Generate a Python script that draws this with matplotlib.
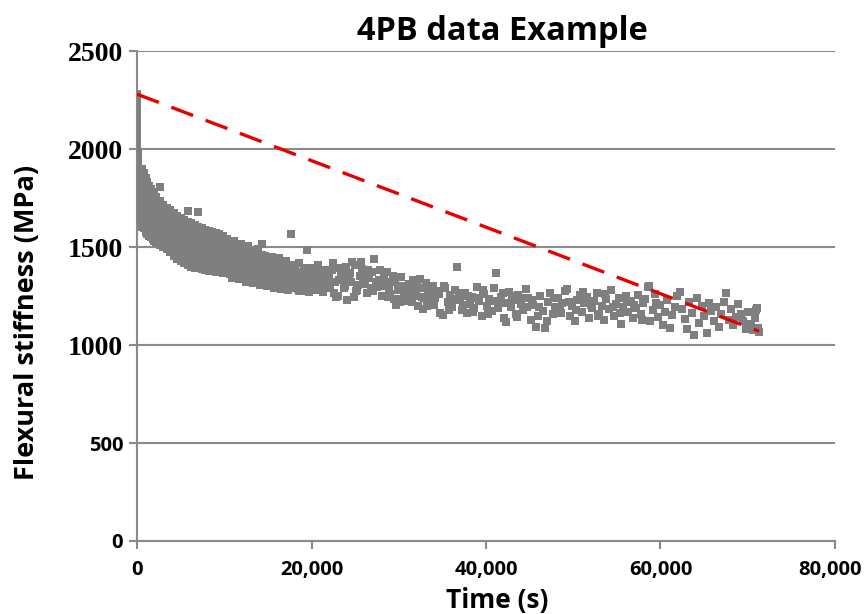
import numpy as np
import matplotlib.pyplot as plt
from matplotlib.ticker import FuncFormatter
from matplotlib.transforms import ScaledTranslation

# --- data (time in s, flexural stiffness in MPa) ---
# first seconds of the test: near-vertical column at t ~ 0
time_start = [0, 0, 0, 0, 0, 0, 0, 0, 20, 40, 60, 80, 100, 120, 150, 180, 200, 230,
              260, 300, 330, 360, 400, 430, 460, 500, 100, 200, 300, 400, 150, 250]
stiff_start = [2280, 2250, 2220, 2190, 2160, 2130, 2100, 2070, 2040, 2010, 1985, 1960,
               1935, 1910, 1890, 1870, 1850, 1830, 1815, 1800, 1790, 1775, 1760, 1750,
               1740, 1730, 1680, 1650, 1630, 1620, 1710, 1690]

# early decay, 600 - 10000 s (dense, overlapping squares)
time_early = [600] * 9 + [800] * 8 + [1000] * 8 + [1200] * 8 + [1400] * 8 + [1600] * 7 + \
             [1800] * 7 + [2000] * 7 + [2200] * 7 + [2600] * 8 + [3000] * 7 + [3400] * 6 + \
             [3800] * 7 + [4200] * 7 + [4600] * 7 + [5000] * 7 + [5400] * 7 + [5800] * 8 + \
             [6200] * 7 + [6600] * 7 + [7000] * 7 + [7400] * 6 + [7800] * 6 + [8200] * 6 + \
             [8600] * 6 + [9000] * 6 + [9400] * 6 + [9800] * 6
stiff_early = [1900, 1860, 1820, 1780, 1740, 1700, 1660, 1620, 1600,
               1880, 1840, 1800, 1760, 1720, 1680, 1640, 1595,
               1850, 1810, 1770, 1730, 1690, 1650, 1610, 1575,
               1830, 1790, 1750, 1710, 1670, 1630, 1590, 1565,
               1810, 1770, 1730, 1690, 1650, 1610, 1570, 1555,
               1795, 1755, 1715, 1675, 1635, 1595, 1550,
               1780, 1740, 1700, 1660, 1620, 1580, 1540,
               1765, 1725, 1685, 1645, 1605, 1565, 1530,
               1755, 1715, 1675, 1635, 1595, 1555, 1520,
               1805, 1735, 1695, 1655, 1615, 1575, 1535, 1510,
               1715, 1675, 1635, 1595, 1555, 1515, 1500,
               1700, 1660, 1620, 1580, 1540, 1490,
               1690, 1650, 1610, 1570, 1530, 1490, 1475,
               1675, 1635, 1595, 1555, 1515, 1475, 1455,
               1660, 1620, 1580, 1540, 1500, 1460, 1440,
               1650, 1610, 1570, 1530, 1490, 1450, 1430,
               1640, 1600, 1560, 1520, 1480, 1440, 1420,
               1685, 1630, 1590, 1550, 1510, 1470, 1430, 1410,
               1620, 1580, 1540, 1500, 1460, 1420, 1400,
               1610, 1570, 1530, 1490, 1450, 1410, 1395,
               1680, 1600, 1560, 1520, 1480, 1440, 1400,
               1595, 1555, 1515, 1475, 1435, 1390,
               1585, 1545, 1505, 1465, 1425, 1385,
               1580, 1540, 1500, 1460, 1420, 1380,
               1575, 1535, 1495, 1455, 1415, 1378,
               1570, 1530, 1490, 1450, 1410, 1375,
               1565, 1525, 1485, 1445, 1405, 1372,
               1555, 1515, 1475, 1435, 1395, 1365]

# 10000 - 20000 s
time_mid = [10300] * 4 + [10700] * 4 + [11100] * 4 + [11500] * 4 + [11900] * 4 + \
           [12300] * 4 + [12700] * 4 + [13100] * 4 + [13500] * 4 + [13900] * 4 + \
           [14300] * 4 + [14700] * 4 + [15100] * 4 + [15500] * 3 + [15900] * 4 + \
           [16300] * 3 + [16700] * 4 + [17100] * 3 + [17650] * 4 + [18100] * 3 + \
           [18600] * 4 + [19100] * 3 + [19500] * 3 + [19900] * 3 + \
           [10500] * 3 + [10900] * 4 + [11300] * 3 + [11700] * 4 + [12100] * 3 + \
           [12500] * 4 + [12900] * 3 + [13300] * 4 + [13700] * 3 + [14100] * 4 + \
           [14500] * 3 + [14900] * 4 + [15300] * 3 + [15700] * 4 + [16100] * 3 + \
           [16500] * 4 + [16900] * 3 + [17300] * 4 + [17900] * 3 + [18400] * 3 + \
           [18900] * 3 + [19300] * 3 + [19700] * 3
stiff_mid = [1540, 1480, 1420, 1370,
             1520, 1460, 1400, 1360,
             1530, 1470, 1410, 1355,
             1500, 1445, 1390, 1350,
             1515, 1455, 1400, 1345,
             1490, 1435, 1380, 1340,
             1505, 1450, 1395, 1335,
             1480, 1425, 1370, 1345,
             1470, 1420, 1365, 1330,
             1490, 1410, 1360, 1325,
             1515, 1460, 1400, 1350,
             1455, 1395, 1345, 1320,
             1440, 1390, 1340, 1310,
             1450, 1385, 1335,
             1430, 1380, 1330, 1305,
             1445, 1375, 1325,
             1420, 1370, 1320, 1300,
             1430, 1365, 1315,
             1565, 1410, 1355, 1310,
             1400, 1350, 1300,
             1420, 1345, 1295, 1275,
             1395, 1340, 1290,
             1485, 1380, 1335,
             1390, 1330, 1285,
             1505, 1450, 1390,
             1495, 1440, 1380, 1340,
             1485, 1425, 1375,
             1475, 1420, 1365, 1335,
             1470, 1410, 1360,
             1460, 1405, 1355, 1320,
             1455, 1400, 1350,
             1445, 1390, 1345, 1315,
             1440, 1385, 1340,
             1435, 1380, 1335, 1305,
             1425, 1370, 1330,
             1420, 1365, 1325, 1300,
             1415, 1360, 1320,
             1410, 1355, 1315, 1290,
             1400, 1350, 1310,
             1395, 1345, 1305, 1285,
             1390, 1340, 1300,
             1385, 1335, 1295, 1280,
             1380, 1330, 1290,
             1375, 1320, 1285,
             1370, 1315, 1280,
             1360, 1310, 1275,
             1355, 1305, 1270]

# 20000 s to end of test
time_late = [20200, 20480, 20760, 21040, 21320, 21600, 21880, 22160, 22440, 22720,
             23000, 23280, 23560, 23840, 24120, 24400, 24680, 24960, 25240, 25520,
             25800, 26080, 26360, 26640, 26920, 27200, 27480, 27760, 28040, 28320,
             28600, 28880, 29160, 29440, 29720, 30000, 30280, 30560, 30840, 31120,
             31400, 31680, 31960, 32240, 32520, 32800, 33080, 33360, 33640, 33920,
             34200, 34480, 34760, 35040, 35320, 35600, 35880, 36160, 36440, 36720,
             37000, 37280, 37560, 37840, 38120, 38400, 38680, 38960, 39240, 39520,
             39800, 40080, 40360, 40640, 40920, 41200, 41480, 41760, 42040, 42320,
             42600, 42880, 43160, 43440, 43720, 44000, 44280, 44560, 44840, 45120,
             45400, 45680, 45960, 46240, 46520, 46800, 47080, 47360, 47640, 47920,
             48200, 48480, 48760, 49040, 49320, 49600, 49880, 50160, 50440, 50720,
             51000, 51280, 51560, 51840, 52120, 52400, 52680, 52960, 53240, 53520,
             53800, 54080, 54360, 54640, 54920, 55200, 55480, 55760, 56040, 56320,
             56600, 56880, 57160, 57440, 57720, 58000, 58280, 58560, 58840, 59120,
             59400, 59680, 59960, 60240, 60520, 60800, 61080, 61360, 61640, 61920,
             62200, 62480, 62760, 63040, 63320, 63600, 63880, 64160, 64440, 64720,
             65000, 65280, 65560, 65840, 66120, 66400, 66680, 66960, 67240, 67520,
             67800, 68080, 68360, 68640, 68920, 69200, 69480, 69760, 70040, 70320,
             70600, 70900, 71100, 71300, 71200, 70800,
             20340, 20900, 21460, 22020, 22580, 23140, 23700, 24260, 24820, 25380,
             25940, 26500, 27060, 27620, 28180, 28740, 29300, 29860, 30420, 30980,
             31540, 32100, 32660, 33220, 33780,
             20060, 20620, 21180, 21740, 22300, 22860, 23420, 23980, 24540, 25100,
             25660, 26220, 26780, 27340, 27900, 28460, 29020, 29580, 30140, 30700,
             31260, 31820, 32380, 32940, 33500, 34060, 34620, 35180, 35740, 36300,
             36860, 37420, 37980, 38540, 39100, 39660, 40220, 40780, 41340, 41900,
             42460, 43020, 43580, 44140, 44700,
             45260, 46100, 46940, 47780, 48620, 49460, 50300, 51140, 51980, 52820,
             53660, 54500, 55340, 56180, 57020, 57860, 58700, 59540]
stiff_late = [1360, 1300, 1410, 1330, 1270, 1385, 1345, 1290, 1420, 1320,
              1250, 1395, 1340, 1300, 1230, 1365, 1425, 1410, 1280, 1350,
              1390, 1310, 1265, 1340, 1375, 1440, 1295, 1330, 1250, 1360,
              1370, 1285, 1320, 1235, 1205, 1300, 1345, 1270, 1225, 1310,
              1280, 1330, 1250, 1200, 1290, 1185, 1315, 1260, 1230, 1300,
              1240, 1275, 1165, 1155, 1290, 1220, 1255, 1195, 1280, 1400,
              1230, 1180, 1265, 1165, 1210, 1245, 1190, 1295, 1225, 1150,
              1260, 1200, 1235, 1175, 1290, 1367, 1215, 1245, 1140, 1115,
              1270, 1195, 1230, 1160, 1255, 1210, 1180, 1285, 1240, 1130,
              1205, 1090, 1150, 1250, 1175, 1088, 1220, 1265, 1160, 1195,
              1240, 1180, 1215, 1275, 1285, 1150, 1200, 1120, 1230, 1255,
              1170, 1215, 1245, 1140, 1190, 1225, 1265, 1160, 1200, 1130,
              1235, 1185, 1280, 1150, 1210, 1240, 1105, 1195, 1250, 1170,
              1225, 1140, 1190, 1255, 1160, 1215, 1235, 1295, 1120, 1180,
              1260, 1145, 1205, 1100, 1170, 1230, 1085, 1155, 1195, 1250,
              1270, 1185, 1135, 1080, 1220, 1165, 1050, 1240, 1110, 1200,
              1150, 1060, 1215, 1175, 1125, 1195, 1090, 1160, 1220, 1265,
              1130, 1185, 1100, 1145, 1210, 1160, 1120, 1080, 1170, 1105,
              1075, 1180, 1190, 1066, 1085, 1140,
              1325, 1375, 1295, 1350, 1265, 1330, 1290, 1355, 1245, 1305,
              1340, 1385, 1275, 1300, 1330, 1245, 1350, 1280, 1235, 1290,
              1220, 1315, 1245, 1200, 1270,
              1395, 1280, 1355, 1310, 1385, 1245, 1360, 1400, 1320, 1275,
              1425, 1355, 1290, 1320, 1385, 1300, 1260, 1330, 1220, 1300,
              1255, 1290, 1335, 1240, 1285, 1205, 1260, 1300, 1180, 1235,
              1265, 1205, 1250, 1170, 1240, 1280, 1160, 1225, 1190, 1265,
              1215, 1250, 1145, 1240, 1195,
              1230, 1195, 1125, 1240, 1165, 1220, 1180, 1270, 1205, 1150,
              1260, 1195, 1165, 1220, 1205, 1130, 1300, 1215]

# dashed red trend line (start / end)
trend_time = [0, 71300]
trend_stiff = [2280, 1070]

x = np.array(time_start + time_early + time_mid + time_late)
y = np.array(stiff_start + stiff_early + stiff_mid + stiff_late)

grey = '#7f7f7f'
axis_grey = '#8a8a8a'
sans = 'Open Sans'

fig = plt.figure(figsize=(8.64, 6.14), dpi=100)
ax = fig.add_axes([0.1586, 0.1189, 0.9664 - 0.1586, 0.9169 - 0.1189])

ax.scatter(x, y, marker='s', s=26, color=grey, linewidths=0, zorder=3)
ax.plot(trend_time, trend_stiff, color='#e60000', lw=2.4, dashes=(7, 4), zorder=4)

ax.set_xlim(0, 80000)
ax.set_ylim(0, 2500)
ax.set_xticks([0, 20000, 40000, 60000, 80000])
ax.set_yticks([0, 500, 1000, 1500, 2000, 2500])
ax.xaxis.set_major_formatter(FuncFormatter(lambda v, p: f'{int(v):,}'))

ax.grid(axis='y', color=axis_grey, lw=1.5, zorder=0)
for s in ['top', 'right']:
    ax.spines[s].set_visible(False)
for s in ['left', 'bottom']:
    ax.spines[s].set_color(axis_grey)
    ax.spines[s].set_linewidth(1.5)
ax.tick_params(axis='both', direction='out', length=6, width=1.5, color=axis_grey)
ax.tick_params(axis='x', pad=8)
ax.tick_params(axis='y', pad=4)

xlabs = ax.get_xticklabels()
for lab in xlabs:
    lab.set_fontfamily(sans)
    lab.set_fontweight('bold')
    lab.set_fontsize(14.5)
# last label sits a little left of its tick so it stays inside the figure
xlabs[-1].set_transform(xlabs[-1].get_transform() +
                        ScaledTranslation(-5 / 100, 0, fig.dpi_scale_trans))

# upper y tick labels are in a serif face, the lower two in sans
for lab, val in zip(ax.get_yticklabels(), [0, 500, 1000, 1500, 2000, 2500]):
    if val >= 1000:
        lab.set_fontfamily('Liberation Serif')
        lab.set_fontsize(20)
    else:
        lab.set_fontfamily(sans)
        lab.set_fontsize(14.5)
    lab.set_fontweight('bold')

fig.text(0.581, 0.9495, '4PB data Example', fontfamily=sans, fontweight='bold',
         fontsize=23.5, ha='center', va='center')
ax.set_xlabel('Time (s)', fontfamily=sans, fontweight='bold', fontsize=19)
ax.xaxis.set_label_coords(0.516, -0.093)
ax.set_ylabel('Flexural stiffness (MPa)', fontfamily=sans, fontweight='bold', fontsize=19.5)
ax.yaxis.set_label_coords(-0.139, 0.447)

fig.savefig('out.png', dpi=100)
